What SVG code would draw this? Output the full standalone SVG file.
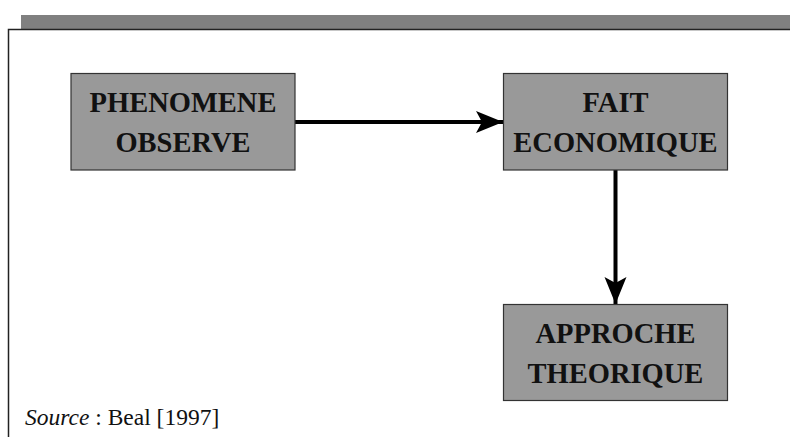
<svg xmlns="http://www.w3.org/2000/svg" width="790" height="437" viewBox="0 0 790 437">
<style>
.box{fill:#999999;stroke:#333333;stroke-width:1.2}
.lbl{font-family:"Liberation Serif","Times New Roman",serif;font-weight:bold;font-size:28.5px;fill:#111;text-anchor:middle}
.conn{stroke:#000;stroke-width:4;fill:none}
.src{font-family:"Liberation Serif","Times New Roman",serif;font-size:23.5px;fill:#111}
</style>
<defs>
<marker id="ah" markerUnits="userSpaceOnUse" markerWidth="30" markerHeight="26" refX="27" refY="11" orient="auto">
<path d="M0,0 L27,11 L0,22 L6,11 Z" fill="#000"/>
</marker>
</defs>
<rect x="21" y="15" width="769" height="14" fill="#808080"/>
<path d="M8.5,437 L8.5,29.5 L790,29.5" fill="none" stroke="#222" stroke-width="1.5"/>
<g id="connectors">
<line class="conn" x1="295" y1="122" x2="503" y2="122" marker-end="url(#ah)"/>
<line class="conn" x1="615.5" y1="170" x2="615.5" y2="304" marker-end="url(#ah)"/>
</g>
<g id="phenomene">
<rect class="box" x="71" y="73.5" width="224" height="96.5"/>
<text class="lbl" x="183" y="112">PHENOMENE</text>
<text class="lbl" x="183" y="152">OBSERVE</text>
</g>
<g id="fait">
<rect class="box" x="503.5" y="73.5" width="224" height="96.5"/>
<text class="lbl" x="615.5" y="112">FAIT</text>
<text class="lbl" x="615.5" y="152">ECONOMIQUE</text>
</g>
<g id="approche">
<rect class="box" x="503.5" y="304.5" width="224" height="96"/>
<text class="lbl" x="615.5" y="343">APPROCHE</text>
<text class="lbl" x="615.5" y="383">THEORIQUE</text>
</g>
<text class="src" x="25" y="425"><tspan font-style="italic">Source</tspan> : Beal [1997]</text>
</svg>
